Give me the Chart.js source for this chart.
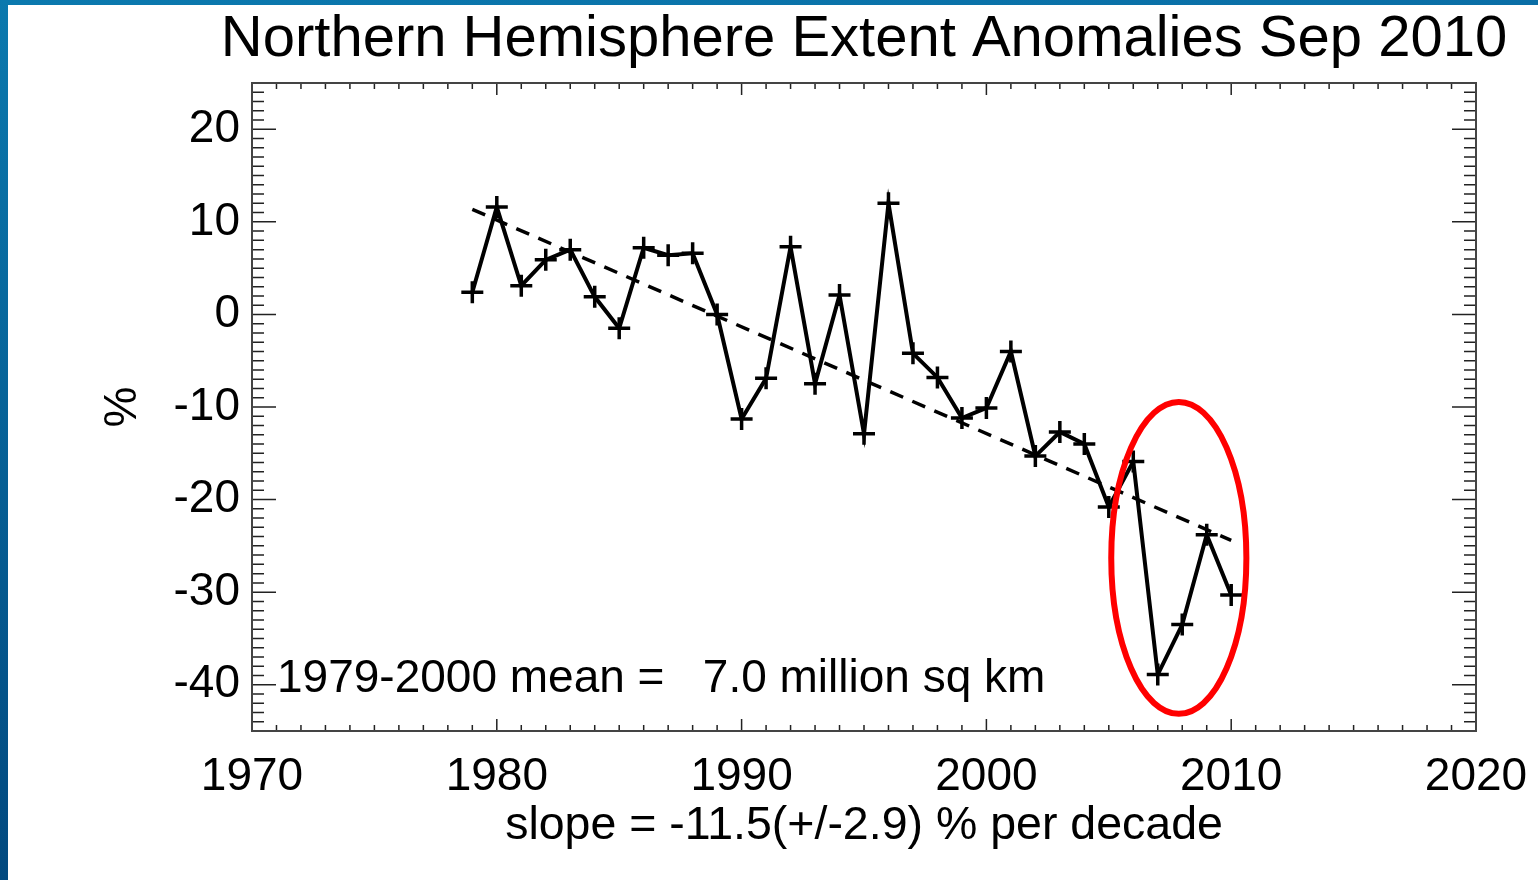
<!DOCTYPE html>
<html>
<head>
<meta charset="utf-8">
<script src="https://cdn.jsdelivr.net/npm/chart.js@4.4.1/dist/chart.umd.min.js"></script>
<style>
  html, body { margin: 0; padding: 0; }
  body {
    width: 1538px; height: 880px; overflow: hidden;
    background:
      linear-gradient(to bottom, #0b79ae, #02497f) left top / 8px 100% no-repeat,
      linear-gradient(to right, #0b79ae, #0a6ea6) left top / 100% 5px no-repeat,
      #ffffff;
  }
  #wrap { position: absolute; left: 0; top: 0; width: 1538px; height: 880px; }
</style>
</head>
<body>
<div id="wrap"><canvas id="mycanvas" width="1538" height="880"></canvas></div>
<script>
// data
var years = [1979, 1980, 1981, 1982, 1983, 1984, 1985, 1986, 1987, 1988,
             1989, 1990, 1991, 1992, 1993, 1994, 1995, 1996, 1997, 1998,
             1999, 2000, 2001, 2002, 2003, 2004, 2005, 2006, 2007, 2008,
             2009, 2010];
var anomalies = [2.4, 11.6, 3.1, 5.9, 7.0, 1.9, -1.5, 7.2, 6.4, 6.6,
                 0.0, -11.3, -6.9, 7.3, -7.5, 2.1, -12.9, 12.0, -4.2, -6.8,
                 -11.2, -10.1, -4.0, -15.3, -12.7, -14.0, -20.8, -15.9, -38.9, -33.5,
                 -23.8, -30.3];
var trendYears = [1979, 2010];
var trendValues = [11.35, -24.4];
var xTicks = [1970, 1980, 1990, 2000, 2010, 2020];
var yTicks = [-40, -30, -20, -10, 0, 10, 20];
var xRange = [1970, 2020];
var yRange = [-45, 25];

var titleText = "Northern Hemisphere Extent Anomalies Sep 2010";
var xTitle = "slope = -11.5(+/-2.9) % per decade";
var yTitle = "%";
var meanText = "1979-2000 mean =   7.0 million sq km";
// red ring around the last years: centre and radii in data units
var ring = { x: 2007.86, y: -26.3, rx: 2.76, ry: 16.85 };

var FONT = "'Liberation Sans', Arial, Helvetica, sans-serif";

var lineData = years.map(function(y, i){ return { x: y, y: anomalies[i] }; });
var trendData = trendYears.map(function(y, i){ return { x: y, y: trendValues[i] }; });

// title, frame, inward ticks on all four sides, mean text and the red ring
var decorPlugin = {
	id: 'decor',
	afterDraw: function(chart) {
		var ctx = chart.ctx;
		var a = chart.chartArea;
		var xs = chart.scales.x, ys = chart.scales.y;
		ctx.save();
		ctx.strokeStyle = '#222';
		ctx.lineWidth = 1.5;
		ctx.beginPath();
		for (var yr = xRange[0] + 1; yr < xRange[1]; yr++) {
			var px = xs.getPixelForValue(yr);
			var len = (yr % 10 === 0) ? 12 : 6;
			ctx.moveTo(px, a.bottom); ctx.lineTo(px, a.bottom - len);
			ctx.moveTo(px, a.top); ctx.lineTo(px, a.top + len);
		}
		for (var v = yRange[0] + 1; v < yRange[1]; v++) {
			var py = ys.getPixelForValue(v);
			var l2 = (v % 10 === 0) ? 24 : 12;
			ctx.moveTo(a.left, py); ctx.lineTo(a.left + l2, py);
			ctx.moveTo(a.right, py); ctx.lineTo(a.right - l2, py);
		}
		ctx.stroke();
		ctx.strokeStyle = '#444';
		ctx.lineWidth = 2;
		ctx.strokeRect(a.left, a.top, a.right - a.left, a.bottom - a.top);

		ctx.fillStyle = '#000';
		ctx.textBaseline = 'middle';
		ctx.textAlign = 'center';
		ctx.font = '58px ' + FONT;
		ctx.fillText(titleText, (a.left + a.right) / 2, 40);

		ctx.font = '46px ' + FONT;
		ctx.textAlign = 'left';
		ctx.fillText(meanText, a.left + 25, ys.getPixelForValue(-39.4));

		var cx = xs.getPixelForValue(ring.x), cy = ys.getPixelForValue(ring.y);
		var rx = Math.abs(xs.getPixelForValue(ring.x + ring.rx) - cx);
		var ry = Math.abs(ys.getPixelForValue(ring.y + ring.ry) - cy);
		ctx.strokeStyle = '#ff0000';
		ctx.lineWidth = 6;
		ctx.beginPath();
		ctx.ellipse(cx, cy, rx, ry, 0, 0, Math.PI * 2);
		ctx.stroke();
		ctx.restore();
	}
};

var ctx = document.getElementById('mycanvas');
var chart = new Chart(ctx, {
	type: 'line',
	data: {
		datasets: [
			{
				label: 'anomaly',
				data: lineData,
				borderColor: '#000',
				borderWidth: 4,
				pointStyle: 'cross',
				pointRadius: 11,
				pointBorderWidth: 3.5,
				pointBorderColor: '#000',
				tension: 0
			},
			{
				label: 'trend',
				data: trendData,
				borderColor: '#000',
				borderWidth: 3.5,
				borderDash: [14, 10],
				pointRadius: 0,
				tension: 0
			}
		]
	},
	options: {
		responsive: false,
		animation: false,
		layout: { padding: { left: 0, right: 62, top: 83, bottom: 0 } },
		plugins: {
			legend: { display: false },
			tooltip: { enabled: false },
			title: { display: false }
		},
		scales: {
			x: {
				type: 'linear',
				min: xRange[0], max: xRange[1],
				grid: { display: false, drawTicks: false },
				border: { display: false },
				afterBuildTicks: function(s){ s.ticks = xTicks.map(function(v){ return { value: v }; }); },
				afterFit: function(s){ s.height = 149; s.paddingLeft = 0; s.paddingRight = 0; },
				ticks: {
					color: '#000',
					font: { family: FONT, size: 46 },
					padding: 19,
					maxRotation: 0,
					autoSkip: false,
					callback: function(v){ return String(v); }
				},
				title: {
					display: true,
					text: xTitle,
					color: '#000',
					font: { family: FONT, size: 46.5 },
					padding: { top: 0, bottom: 26 }
				}
			},
			y: {
				min: yRange[0], max: yRange[1],
				grid: { display: false, drawTicks: false },
				border: { display: false },
				afterBuildTicks: function(s){ s.ticks = yTicks.map(function(v){ return { value: v }; }); },
				afterFit: function(s){ s.width = 252; s.paddingTop = 0; s.paddingBottom = 0; },
				ticks: {
					color: '#000',
					font: { family: FONT, size: 46 },
					padding: 12,
					callback: function(v){ return String(v); }
				},
				title: {
					display: true,
					text: yTitle,
					color: '#000',
					font: { family: FONT, size: 46 },
					padding: { top: 96, bottom: 0 }
				}
			}
		}
	},
	plugins: [decorPlugin]
});
</script>
</body>
</html>
